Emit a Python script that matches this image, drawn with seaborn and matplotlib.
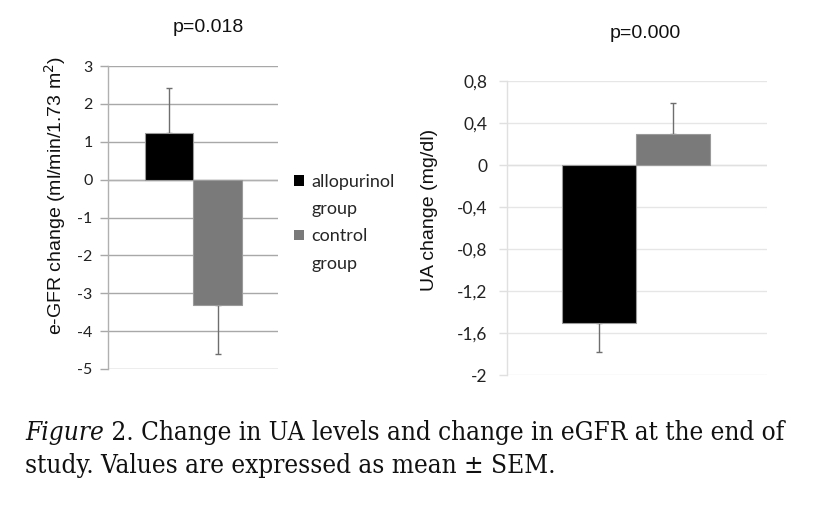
import matplotlib
matplotlib.use("Agg")
import matplotlib.pyplot as plt
import seaborn as sns
import pandas as pd
from matplotlib.patches import Patch

sns.set_theme(style="white")
plt.rcParams['font.family'] = ['Liberation Sans', 'DejaVu Sans']

groups = ["allopurinol group", "control group"]
colors = ["#000000", "#7a7a7a"]

egfr_mean = [1.22, -3.3]
egfr_sem = [1.2, 1.3]
egfr_ticks = [3, 2, 1, 0, -1, -2, -3, -4, -5]
egfr_ticklabels = ["3", "2", "1", "0", "-1", "-2", "-3", "-4", "-5"]

ua_mean = [-1.5, 0.3]
ua_sem = [0.28, 0.29]
ua_ticks = [0.8, 0.4, 0, -0.4, -0.8, -1.2, -1.6, -2]
ua_ticklabels = ["0,8", "0,4", "0", "-0,4", "-0,8", "-1,2", "-1,6", "-2"]

p_left = "p=0.018"
p_right = "p=0.000"
legend_lines = [["allopurinol", "group"], ["control", "group"]]
caption_italic = "Figure"
caption_line1 = " 2. Change in UA levels and change in eGFR at the end of"
caption_line2 = "study. Values are expressed as mean \u00b1 SEM."

df_l = pd.DataFrame({"group": groups, "value": egfr_mean})
df_r = pd.DataFrame({"group": groups, "value": ua_mean})

W, H = 814, 512
fig = plt.figure(figsize=(W / 100, H / 100), dpi=100)
axL = fig.add_axes([108 / W, 1 - 369 / H, 170 / W, 303 / H])
axR = fig.add_axes([507 / W, 1 - 375 / H, 260 / W, 294 / H])


def draw(ax, df, sem, ticks, ticklabels, ylim, xlim, gridc, spinec, tickc,
         ylabel, lab_xy, tick_fs, tick_pad):
    sns.barplot(data=df, x="group", y="value", hue="group", palette=colors,
                width=1.0, ax=ax, legend=False, edgecolor="#9a9a9a", linewidth=0.8,
                errorbar=None, zorder=3)
    for i, (m, s) in enumerate(zip(df["value"], sem)):
        lo = [0] if m >= 0 else [s]
        hi = [s] if m >= 0 else [0]
        ax.errorbar([i], [m], yerr=[lo, hi], fmt="none", ecolor="#6e6e6e",
                    elinewidth=1.0, capsize=2, capthick=1.0, zorder=2)
    ax.set_xlim(*xlim)
    ax.set_ylim(*ylim)
    ax.set_yticks(ticks)
    ax.set_yticklabels(ticklabels, family=["Lato", "DejaVu Sans"])
    ax.set_xticks([])
    ax.set_xlabel("")
    ax.set_ylabel(ylabel, fontsize=14, color="#111111")
    ax.yaxis.set_label_coords(*lab_xy)
    ax.yaxis.grid(True, color=gridc, linewidth=1.0, zorder=0)
    ax.set_axisbelow(True)
    ax.axhline(0, color=spinec, linewidth=1.0, zorder=1)
    for side in ["top", "right", "bottom"]:
        ax.spines[side].set_visible(False)
    ax.spines["left"].set_color(spinec)
    ax.spines["left"].set_linewidth(1.0)
    ax.tick_params(axis="y", which="major", left=True, length=6, width=1.0,
                   color=tickc, labelsize=tick_fs, labelcolor="#222222", pad=tick_pad)


draw(axL, df_l, egfr_sem, egfr_ticks, egfr_ticklabels, (-5, 3), (-1.258, 2.247),
     "#a8a8a8", "#b0b0b0", "#a8a8a8", "e-GFR change (ml/min/1.73 m$^2$)",
     (-0.235, 0.574), 11.5, 5)
draw(axR, df_r, ua_sem, ua_ticks, ua_ticklabels, (-2, 0.8), (-1.243, 2.27),
     "#e6e6e6", "#e0e0e0", "#e0e0e0", "UA change (mg/dl)",
     (-0.265, 0.561), 12.5, 8)

fig.text(208 / W, 1 - 28 / H, p_left, fontsize=14, ha="center", va="center", color="#111111")
fig.text(645 / W, 1 - 33 / H, p_right, fontsize=14, ha="center", va="center", color="#111111")

handles, labels = [], []
for c, lines in zip(colors, legend_lines):
    handles.append(Patch(facecolor=c, edgecolor="none"))
    labels.append(lines[0])
    handles.append(Patch(facecolor="none", edgecolor="none"))
    labels.append(lines[1])
fig.legend(handles, labels, loc="upper left", bbox_to_anchor=(294 / W, 1 - 174 / H),
           frameon=False, prop={"family": ["Lato", "DejaVu Sans"], "size": 13},
           handlelength=0.55, handleheight=0.55, handletextpad=0.4, labelspacing=0.62,
           borderpad=0, borderaxespad=0)

# caption, fitted to the reference width
serif = ["DejaVu Serif"]
fs = 16
x0, x1 = 25, 788
fig.canvas.draw()
r = fig.canvas.get_renderer()
kw = dict(family=serif, stretch="condensed", va="baseline", color="#111111")
t_it = fig.text(x0 / W, 1 - 440 / H, caption_italic, fontsize=fs, style="italic", **kw)
w_it = t_it.get_window_extent(r).width
t_1 = fig.text((x0 + w_it) / W, 1 - 440 / H, caption_line1, fontsize=fs, **kw)
w_1 = t_1.get_window_extent(r).width
fs2 = fs * (x1 - x0) / (w_it + w_1)
t_it.set_fontsize(fs2)
w_it = t_it.get_window_extent(r).width
t_1.set_fontsize(fs2)
t_1.set_x((x0 + w_it) / W)
fig.text(x0 / W, 1 - 473 / H, caption_line2, fontsize=fs2, **kw)

fig.savefig("out.png", dpi=100)
